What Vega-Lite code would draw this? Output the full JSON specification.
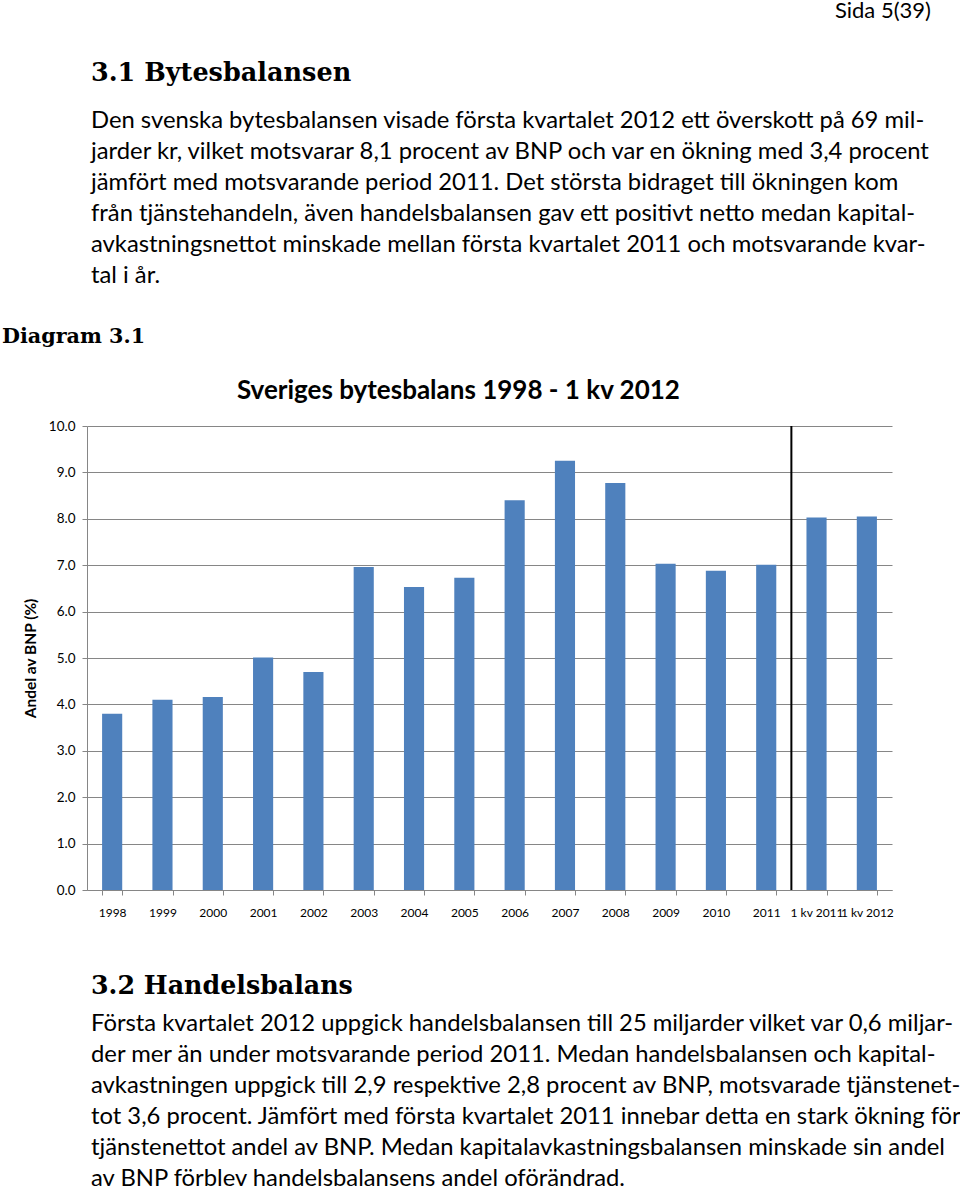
{
  "$schema": "https://vega.github.io/schema/vega-lite/v6.json",
  "padding": {"left": 2, "top": 0, "right": 0, "bottom": 0},
  "spacing": 0,
  "background": "white",
  "config": {"view": {"stroke": null}, "font": "Lato"},
  "title": {
    "text": "Sida 5(39)",
    "anchor": "end",
    "fontSize": 22,
    "fontWeight": "normal",
    "offset": 37.5,
    "dx": -31
  },
  "datasets": {
    "bal": [
      {"period": "1998", "share": 3.8},
      {"period": "1999", "share": 4.1},
      {"period": "2000", "share": 4.16},
      {"period": "2001", "share": 5.01},
      {"period": "2002", "share": 4.7},
      {"period": "2003", "share": 6.96},
      {"period": "2004", "share": 6.53},
      {"period": "2005", "share": 6.73},
      {"period": "2006", "share": 8.4},
      {"period": "2007", "share": 9.25},
      {"period": "2008", "share": 8.77},
      {"period": "2009", "share": 7.03},
      {"period": "2010", "share": 6.88},
      {"period": "2011", "share": 7.01},
      {"period": "1 kv 2011", "share": 8.03},
      {"period": "1 kv 2012", "share": 8.05}
    ],
    "blank": [{"note": ""}]
  },
  "vconcat": [
    {
      "width": 850,
      "height": 33.5,
      "title": {
        "text": "3.1 Bytesbalansen",
        "subtitle": [
          "Den svenska bytesbalansen visade första kvartalet 2012 ett överskott på 69 mil-",
          "jarder kr, vilket motsvarar 8,1 procent av BNP och var en ökning med 3,4 procent",
          "jämfört med motsvarande period 2011. Det största bidraget till ökningen kom",
          "från tjänstehandeln, även handelsbalansen gav ett positivt netto medan kapital-",
          "avkastningsnettot minskade mellan första kvartalet 2011 och motsvarande kvar-",
          "tal i år."
        ],
        "anchor": "start",
        "dx": 4,
        "font": "DejaVu Serif",
        "fontSize": 25.5,
        "fontWeight": "bold",
        "subtitleFont": "Lato",
        "subtitleFontSize": 23.8,
        "subtitleLineHeight": 31,
        "subtitlePadding": 23
      },
      "data": {"name": "blank"},
      "mark": {"type": "text"},
      "encoding": {"text": {"field": "note"}}
    },
    {
      "width": 850,
      "height": 26,
      "title": {
        "text": "Diagram 3.1",
        "anchor": "start",
        "dx": -85,
        "font": "DejaVu Serif",
        "fontSize": 20.7,
        "fontWeight": "bold"
      },
      "data": {"name": "blank"},
      "mark": {"type": "text"},
      "encoding": {"text": {"field": "note"}}
    },
    {
      "width": 805,
      "height": 464,
      "title": {
        "text": "Sveriges bytesbalans 1998 - 1 kv 2012",
        "anchor": "middle",
        "frame": "bounds",
        "font": "Lato",
        "fontSize": 26,
        "fontWeight": "bold",
        "offset": 15
      },
      "data": {"name": "bal"},
      "layer": [
        {
          "mark": {"type": "bar", "color": "#4f81bd"},
          "encoding": {
            "x": {
              "field": "period",
              "type": "nominal",
              "sort": null,
              "scale": {"paddingInner": 0.6, "paddingOuter": 0.3},
              "axis": {
                "orient": "bottom",
                "title": " ",
                "titleFontSize": 13,
                "titlePadding": 43,
                "labelAngle": 0,
                "tickBand": "extent",
                "tickSize": 5,
                "tickColor": "#868686",
                "domainColor": "#868686",
                "labelFontSize": 12,
                "labelColor": "#000",
                "labelPadding": 12,
                "grid": false
              }
            },
            "y": {
              "field": "share",
              "type": "quantitative",
              "scale": {"domain": [0, 10]},
              "axis": {
                "title": "Andel av BNP (%)",
                "titleFontSize": 15.5,
                "titleFontWeight": "bold",
                "titleColor": "#000",
                "titlePadding": 10,
                "values": [0, 1, 2, 3, 4, 5, 6, 7, 8, 9, 10],
                "format": ".1f",
                "labelFontSize": 13.5,
                "labelColor": "#000",
                "labelPadding": 7,
                "tickSize": 5,
                "tickColor": "#868686",
                "domainColor": "#868686",
                "gridColor": "#868686"
              }
            }
          }
        },
        {
          "mark": {"type": "rule", "color": "#000", "strokeWidth": 2},
          "encoding": {
            "x": {"field": "period", "type": "nominal", "sort": null, "bandPosition": 1.75},
            "y": {"datum": 10, "type": "quantitative"},
            "y2": {"datum": 0},
            "strokeOpacity": {
              "condition": {"test": "datum.period === '2011'", "value": 1},
              "value": 0
            }
          }
        }
      ]
    },
    {
      "width": 850,
      "height": 1,
      "title": {
        "text": "3.2 Handelsbalans",
        "subtitle": [
          "Första kvartalet 2012 uppgick handelsbalansen till 25 miljarder vilket var 0,6 miljar-",
          "der mer än under motsvarande period 2011. Medan handelsbalansen och kapital-",
          "avkastningen uppgick till 2,9 respektive 2,8 procent av BNP, motsvarade tjänstenet-",
          "tot 3,6 procent. Jämfört med första kvartalet 2011 innebar detta en stark ökning för",
          "tjänstenettot andel av BNP. Medan kapitalavkastningsbalansen minskade sin andel",
          "av BNP förblev handelsbalansens andel oförändrad."
        ],
        "anchor": "start",
        "dx": 4,
        "font": "DejaVu Serif",
        "fontSize": 25.3,
        "fontWeight": "bold",
        "subtitleFont": "Lato",
        "subtitleFontSize": 23.8,
        "subtitleLineHeight": 31,
        "subtitlePadding": 12
      },
      "data": {"name": "blank"},
      "mark": {"type": "text"},
      "encoding": {"text": {"field": "note"}}
    }
  ]
}
